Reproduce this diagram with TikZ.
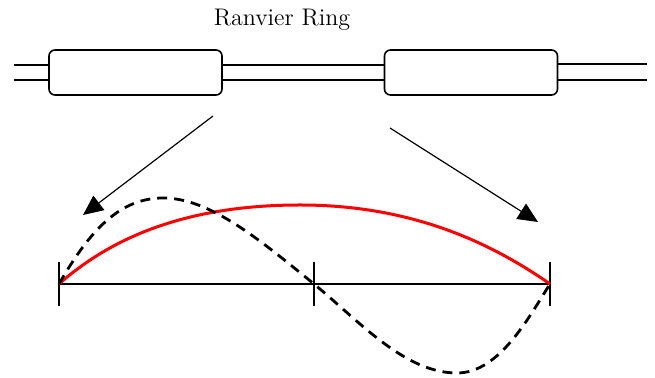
\documentclass[tikz,border=0pt]{standalone}
\usepackage{tikz}
\usetikzlibrary{arrows.meta,positioning,calc}
\definecolor{ink}{RGB}{0,0,0}
\definecolor{wave}{RGB}{255,0,0}
\tikzset{
  sheath/.style={draw=ink,rounded corners=3pt,line width=0.8pt,minimum width=86.5pt,
    minimum height=22.5pt,inner sep=0pt},
  axon/.style={draw=ink,line width=0.6pt},
  pointer/.style={-{Triangle[length=10pt,width=9pt]},line width=0.6pt,draw=ink},
  tick/.style={draw=ink,line width=0.7pt},
  % waves
  firstmode/.style={draw=wave,line width=1.5pt},
  secondmode/.style={draw=ink,line width=1.4pt,dash pattern=on 5pt off 3.5pt},
}

\begin{document}
\begin{tikzpicture}[x=0.5pt,y=-0.5pt]
        \useasboundingbox (0,0) rectangle (655,378);
        \node[sheath] (b1) at (135.5,72.5) {};
        \node[sheath] (b2) at (471,72.5) {};
        \node[font=\large] (lbl) at (282,20) {Ranvier Ring};
        % axon lines
        \coordinate (la) at (14,65);
        \coordinate (lb) at (14,80);
        \coordinate (ra) at (647,64);
        \coordinate (rb) at (647,80);
        \draw[axon] (la) -- (la -| b1.west);
        \draw[axon] (lb) -- (lb -| b1.west);
        \draw[axon] (b1.east |- 0,65) -- (b2.west |- 0,65);
        \draw[axon] (b1.east |- 0,80) -- (b2.west |- 0,80);
        \draw[axon] (b2.east |- ra) -- (ra);
        \draw[axon] (b2.east |- rb) -- (rb);
        % arrows
        \coordinate (p1) at (213,116);
        \coordinate (q1) at (83,215);
        \coordinate (p2) at (390,128);
        \coordinate (q2) at (538,222);
        \draw[pointer] (p1) -- (q1);
        \draw[pointer] (p2) -- (q2);
        % axis with ticks
        \coordinate (t0) at (59,284);
        \coordinate (t1) at (314,284);
        \coordinate (t2) at (550,284);
        \draw[axon] (t0) -- (t2);
        \foreach \t in {t0,t1,t2} \draw[tick] ($(\t)+(0,-22)$) -- ($(\t)+(0,22)$);
        % waves
        \draw[firstmode] (t0) .. controls (120,230) and (200,205) .. (300,205)
          .. controls (400,205) and (480,235) .. (t2);
        \draw[secondmode] (t0) .. controls (90,230) and (120,198) .. (163,198)
          .. controls (210,198) and (260,240) .. (t1)
          .. controls (360,322) and (405,373) .. (457,373)
          .. controls (500,373) and (530,315) .. (t2);
      \end{tikzpicture}
\end{document}
